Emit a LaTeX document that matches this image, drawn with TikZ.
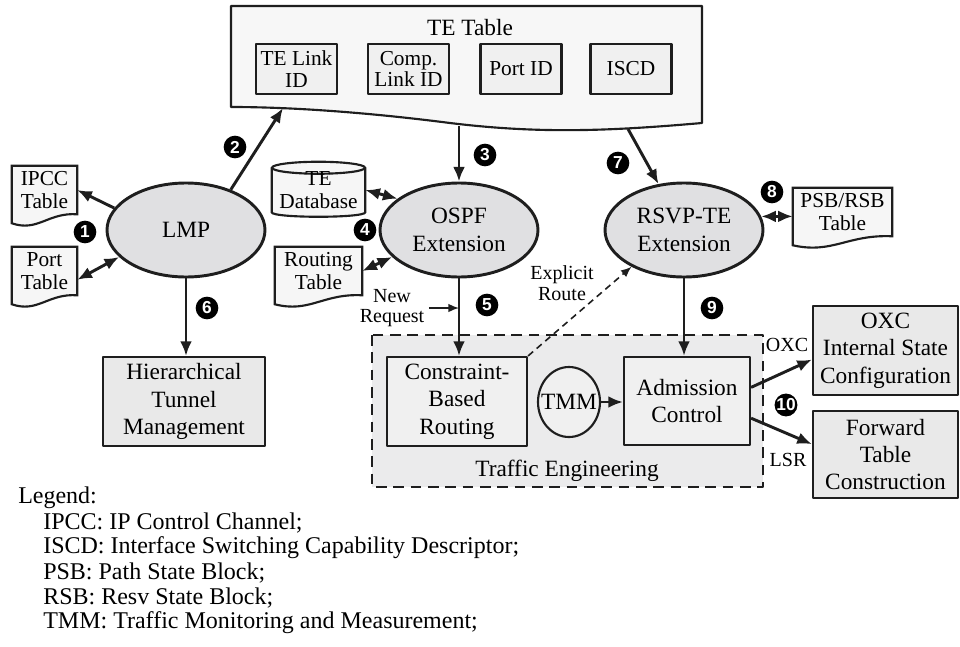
\documentclass[tikz,border=0pt]{standalone}
\usepackage{fontspec}
\setmainfont{Liberation Serif}
\newfontfamily\numfont{Liberation Sans}
\usetikzlibrary{arrows.meta,shapes.geometric,calc,backgrounds}

\definecolor{tefill}{RGB}{247,247,247}
\definecolor{boxfill}{RGB}{240,240,240}
\definecolor{blkfill}{RGB}{233,233,233}
\definecolor{ellfill}{RGB}{224,224,226}
\definecolor{areafill}{RGB}{235,235,236}
\definecolor{docfill}{RGB}{246,246,246}
\definecolor{ink}{RGB}{30,30,30}

\tikzset{
  mplsfig/.style={x=0.75pt,y=-0.75pt,font=\fontsize{17.5}{20.5}\selectfont,line join=round},
  proto/.style={ellipse,draw=ink,line width=2.2pt,fill=ellfill,align=center,
    minimum width=118.5pt,minimum height=70.5pt,inner sep=0pt},
  blk/.style={rectangle,draw=ink,line width=1.6pt,fill=blkfill,align=center,inner sep=0pt},
  field/.style={blk,fill=boxfill,minimum width=60.75pt,minimum height=37.5pt,
    font=\fontsize{16}{16}\selectfont},
  doc/.style={rectangle,align=center,inner sep=0pt,minimum height=36pt,
    font=\fontsize{16}{17}\selectfont},
  docline/.style={draw=ink,line width=1.6pt,fill=docfill},
  area/.style={draw=ink,line width=1.9pt,dash pattern=on 8pt off 5pt,fill=areafill},
  arr/.style={draw=ink,line width=2.2pt,-{Latex[length=11pt,width=9pt]}},
  biarr/.style={arr,{Latex[length=11pt,width=9pt]}-{Latex[length=11pt,width=9pt]}},
  thinarr/.style={draw=ink,line width=1.2pt,-{Latex[length=8pt,width=6.5pt]}},
  rte/.style={thinarr,dash pattern=on 5pt off 3.5pt},
  num/.style={circle,fill=black,text=white,inner sep=0pt,minimum size=17pt,
    font=\numfont\bfseries\fontsize{13}{13}\selectfont},
  lbl/.style={align=center,font=\fontsize{15}{15.5}\selectfont},
  legend/.style={anchor=west,inner sep=0pt,font=\fontsize{18}{19}\selectfont},
}

% document symbol round a node
\newcommand\docoutline[1]{%
  \draw[docline] (#1.south west) -- (#1.north west) -- (#1.north east) -- (#1.south east)
    .. controls ($(#1.south east)!0.45!(#1.south west)+(0,-2)$)
    and ($(#1.south east)!0.6!(#1.south west)+(0,18)$) .. ($(#1.south west)+(0,9)$) -- cycle;}

\begin{document}
\begin{tikzpicture}[mplsfig]
  \useasboundingbox (0,0) rectangle (960,646);
  % TE table
  \draw[docline,fill=tefill] (231,6) -- (702,6) -- (702,123)
    .. controls (610,131) and (540,134) .. (450,123)
    .. controls (380,114) and (300,107) .. (231,107) -- cycle;
  \node (tetitle) at (470,28) {TE Table};
  \node[field] (tlid) at (296.5,69) {TE Link\\ID};
  \node[field] (clid) at (408.5,69) {Comp.\\Link ID};
  \node[field] (pid)  at (521,69) {Port ID};
  \node[field] (iscd) at (631,69) {ISCD};
  \coordinate (t2) at (283,108);
  \coordinate (t3) at (459,126);
  \coordinate (t7) at (628,129);

  \node[proto] (lmp)  at (186,230) {LMP};
  \node[proto] (ospf) at (459,230) {OSPF\\Extension};
  \node[proto] (rsvp) at (684,230) {RSVP-TE\\Extension};

  \node[doc,minimum width=48.75pt] (ipcc) at (44.5,190) {IPCC\\Table};
  \node[doc,minimum width=48.75pt] (port) at (44.5,271) {Port\\Table};
  \node[doc,minimum width=65.25pt] (rtab) at (318.5,271) {Routing\\Table};
  \node[doc,minimum width=74.25pt] (psb)  at (842.5,212) {PSB/RSB\\Table};
  \node[doc,minimum width=69.75pt,minimum height=33pt] (tedb) at (318.5,190) {TE\\Database};
  \begin{pgfonlayer}{background}
    \foreach \d in {ipcc,port,rtab,psb} {\docoutline{\d}}
    \draw[docline] (tedb.north west) -- (tedb.south west)
      .. controls +(0,6) and +(0,6) .. (tedb.south east) -- (tedb.north east);
    \draw[docline] (tedb.north) ellipse [x radius=46.5, y radius=6];
  \end{pgfonlayer}

  % traffic engineering
  \draw[area] (372,335) rectangle (763,487);
  \node (tetext) at (567,471) {Traffic Engineering};
  \node[blk,minimum width=121.5pt,minimum height=66.75pt] (hier) at (184,401.5) {Hierarchical\\Tunnel\\Management};
  \node[blk,fill=boxfill,minimum width=105pt,minimum height=66.75pt] (cbr) at (457,401.5) {Constraint-\\Based\\Routing};
  \node[ellipse,draw=ink,line width=1.6pt,fill=boxfill,minimum width=46.5pt,minimum height=52.5pt,
    inner xsep=-5pt,inner ysep=0pt] (tmm) at (569,402) {TMM};
  \node[blk,fill=boxfill,minimum width=94.5pt,minimum height=66pt] (adm) at (687,401) {Admission\\Control};
  \node[blk,minimum width=108.75pt,minimum height=66.75pt] (oxc) at (885.5,350.5) {OXC\\Internal State\\Configuration};
  \node[blk,minimum width=108.75pt,minimum height=65.25pt] (fwd) at (885.5,454.5) {Forward\\Table\\Construction};

  \draw[arr] (lmp.163) -- (ipcc.east);
  \draw[biarr] (lmp.202) -- (port.-15);
  \draw[arr] (lmp.42) -- (t2);
  \draw[arr] (t3) -- (ospf.north);
  \draw[arr] (t7) -- (rsvp);
  \draw[biarr] (tedb.east) -- (ospf.153);
  \draw[biarr] (rtab.east) -- (ospf.202);
  \draw[arr] (ospf.south) -- (ospf.south |- cbr.north);
  \draw[arr] (lmp.south) -- (lmp.south |- hier.north);
  \draw[biarr] (rsvp.10) -- (rsvp.10 -| psb.west);
  \draw[arr] (rsvp.south) -- (rsvp.south |- adm.north);
  \draw[rte] (cbr.north east) -- (rsvp.215);
  \draw[arr] (tmm.east) -- (tmm.east -| adm.west);
  \draw[arr] (adm.12) -- (oxc.187);
  \draw[arr] (adm.-15) -- (fwd.172);

  \node[lbl] (nreq) at (392,308) {New\\Request};
  \draw[thinarr] (nreq.east) -- (nreq.east -| ospf.south);
  \node[lbl] (exr) at (562,283) {Explicit\\Route};
  \node[lbl] (oxcl) at (787,345) {OXC};
  \node[lbl] (lsrl) at (788,460) {LSR};

  \foreach \k/\x/\y in {1/85/232,2/235/147,3/485/155,4/365/230,5/487/305,
      6/207/308,7/618/163,8/772/192,9/712/308,10/786/405}
    \node[num] (n\k) at (\x,\y) {\k};

  % legend
  \node[legend] (legend) at (18,498) {Legend:};
  \foreach \t [count=\i] in {{IPCC: IP Control Channel;},
      {ISCD: Interface Switching Capability Descriptor;},
      {PSB: Path State Block;},{RSB: Resv State Block;},
      {TMM: Traffic Monitoring and Measurement;}}
    \node[legend] (lg\i) at (43,{498+25*\i}) {\t};
\end{tikzpicture}
\end{document}
